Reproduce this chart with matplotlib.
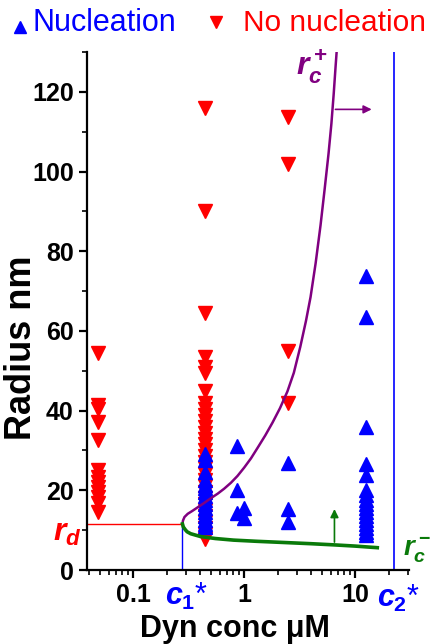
import matplotlib
matplotlib.use("Agg")
import matplotlib.pyplot as plt
from matplotlib.lines import Line2D
from matplotlib.ticker import MultipleLocator, LogLocator, FixedLocator, FixedFormatter, NullFormatter

plt.rcParams['font.family'] = 'Liberation Sans'
plt.rcParams['mathtext.fontset'] = 'custom'
plt.rcParams['mathtext.it'] = 'Liberation Sans:italic:bold'
plt.rcParams['mathtext.rm'] = 'Liberation Sans:bold'
plt.rcParams['mathtext.bf'] = 'Liberation Sans:bold'

# --- data ---
# no nucleation (red, down triangles)
nonuc_c1 = 0.048
nonuc_r1 = [54.5, 41.5, 40.5, 37.2, 32.7, 25.1, 23.4, 22.1, 20.9, 19.6, 18.3, 16.8, 14.6]
nonuc_c2 = 0.44
nonuc_r2 = [116, 90, 64.5, 53.5, 51, 49.5, 45, 42, 40.5, 39, 37.5, 36, 34.5, 33, 31.5, 30,
            28.5, 27, 25.5, 24, 22.5, 21, 19.5, 18, 16.5, 15, 13.5, 12, 10.5, 9, 7.8]
nonuc_c3 = 2.5
nonuc_r3 = [113.8, 102, 55, 42]

# nucleation (blue, up triangles)
nuc_c1 = 0.44
nuc_r1 = [29, 27.5, 24.6, 22.5, 21.4, 20.5, 19.5, 18.5, 17.5, 16.5, 15.5, 14.5, 13.5, 12.5, 11.5, 10.8]
nuc_c2 = 0.86
nuc_r2 = [31, 20.1, 14.3]
nuc_c3 = 1.0
nuc_r3 = [15.6, 13.1]
nuc_c4 = 2.5
nuc_r4 = [26.9, 15.3, 12.1]
nuc_c5 = 12.5
nuc_r5 = [73.9, 63.5, 36, 26.7, 23.8, 20, 18.8, 17.5, 16.5, 15.5, 14.5, 13.5, 12.5, 11.5, 10.5, 9.5, 8.8]

# theory curves
rc_plus_c = [0.278, 0.281, 0.29, 0.31, 0.34, 0.38, 0.44, 0.50, 0.58, 0.66, 0.76, 0.87, 1.0,
             1.15, 1.33, 1.55, 1.8, 2.1, 2.45, 2.8, 3.2, 3.6, 3.96, 4.4, 4.87, 5.3, 5.75,
             6.1, 6.4, 6.66, 6.8]
rc_plus_r = [11.56, 12.4, 13.3, 14.1, 14.8, 15.7, 16.9, 18.0, 19.2, 20.4, 21.9, 23.6, 25.7,
             28.0, 30.8, 33.8, 37.0, 40.6, 44.8, 49.5, 56.0, 62.5, 68.5, 77.0, 86.5, 95.5, 104.5,
             112.0, 119.5, 126.5, 130.0]
rc_minus_c = [0.278, 0.283, 0.295, 0.306, 0.33, 0.404, 0.55, 0.80, 1.3, 2.29, 4.0, 6.5, 10.0, 15.8]
rc_minus_r = [11.56, 10.8, 10.1, 9.6, 9.1, 8.4, 7.9, 7.5, 7.2, 6.9, 6.6, 6.3, 6.0, 5.6]

c1_star = 0.278
c2_star = 22.5
r_d = 11.56
xmin, xmax = 0.0384, 30.5

blue = '#0000FF'
red = '#FF0000'
purple = '#800080'
green = '#0A7A0A'

fig = plt.figure(figsize=(4.31, 6.44), dpi=100)
ax = fig.add_axes([87/431, 1-570/644, (409-87)/431, (570-52)/644])

nonuc_c = [nonuc_c1]*len(nonuc_r1) + [nonuc_c2]*len(nonuc_r2) + [nonuc_c3]*len(nonuc_r3)
nonuc_r = nonuc_r1 + nonuc_r2 + nonuc_r3
nuc_c = ([nuc_c1]*len(nuc_r1) + [nuc_c2]*len(nuc_r2) + [nuc_c3]*len(nuc_r3)
         + [nuc_c4]*len(nuc_r4) + [nuc_c5]*len(nuc_r5))
nuc_r = nuc_r1 + nuc_r2 + nuc_r3 + nuc_r4 + nuc_r5

ax.plot(nonuc_c, nonuc_r, linestyle='none', marker='v', ms=9.5, color=red, mec=red, zorder=3)
ax.plot(nuc_c, nuc_r, linestyle='none', marker='^', ms=9.5, color=blue, mec=blue, zorder=4)

ax.plot(rc_plus_c, rc_plus_r, color=purple, lw=1.8, zorder=5)
ax.plot(rc_minus_c, rc_minus_r, color=green, lw=2.6, zorder=5)

ax.plot([xmin, c1_star], [r_d, r_d], color=red, lw=1.0, zorder=2)
ax.plot([c1_star, c1_star], [0, r_d], color=blue, lw=1.0, zorder=2)
ax.axvline(c2_star, color=blue, lw=1.2, zorder=2)

ax.annotate('', xy=(14.9, 115.6), xytext=(6.26, 115.6),
            arrowprops=dict(arrowstyle='-|>', color=purple, lw=1.2, mutation_scale=12))
ax.annotate('', xy=(6.5, 16.0), xytext=(6.5, 6.3),
            arrowprops=dict(arrowstyle='-|>', color=green, lw=1.2, mutation_scale=12))

ax.set_xscale('log')
ax.set_xlim(xmin, xmax)
ax.set_ylim(0, 130)
ax.xaxis.set_major_locator(FixedLocator([0.1, 1, 10]))
ax.xaxis.set_major_formatter(FixedFormatter(['0.1', '1', '10']))
ax.xaxis.set_minor_locator(LogLocator(base=10, subs=range(2, 10)))
ax.xaxis.set_minor_formatter(NullFormatter())
ax.yaxis.set_major_locator(MultipleLocator(20))
ax.yaxis.set_minor_locator(MultipleLocator(10))

for s in ['top', 'right']:
    ax.spines[s].set_visible(False)
for s in ['left', 'bottom']:
    ax.spines[s].set_linewidth(1.6)
ax.tick_params(which='major', direction='out', length=6, width=1.6, labelsize=18)
ax.tick_params(which='minor', direction='out', length=3.5, width=1.2)
for lab in ax.get_xticklabels() + ax.get_yticklabels():
    lab.set_fontweight('bold')

ax.set_ylabel('Radius nm', fontsize=26, fontweight='bold')
ax.yaxis.set_label_coords(-0.15, 0.43)
ax.set_xlabel('Dyn conc μM', fontsize=22, fontweight='bold')
ax.xaxis.set_label_coords(0.46, -0.085)

# curve and threshold labels
fig.text(53/431, 1-533/644, r'$r_d$', color=red, fontsize=23, va='center', ha='left')
fig.text(165/431, 1-596/644, r'$c_1$*', color=blue, fontsize=22, va='center', ha='left')
fig.text(377/431, 1-598/644, r'$c_2$*', color=blue, fontsize=22, va='center', ha='left')
fig.text(296/431, 1-67/644, r'$r_c^+$', color=purple, fontsize=23, va='center', ha='left')
fig.text(403/431, 1-550/644, r'$r_c^-$', color=green, fontsize=20, va='center', ha='left')

# legend on top
fig.add_artist(Line2D([20/431], [1-27/644], marker='^', ms=8.5, color=blue, transform=fig.transFigure))
fig.text(33/431, 1-23/644, 'Nucleation', color=blue, fontsize=22, va='center', ha='left')
fig.add_artist(Line2D([216/431], [1-22/644], marker='v', ms=8.5, color=red, transform=fig.transFigure))
fig.text(243/431, 1-23/644, 'No nucleation', color=red, fontsize=21.5, va='center', ha='left')

fig.savefig('out.png', dpi=100)
